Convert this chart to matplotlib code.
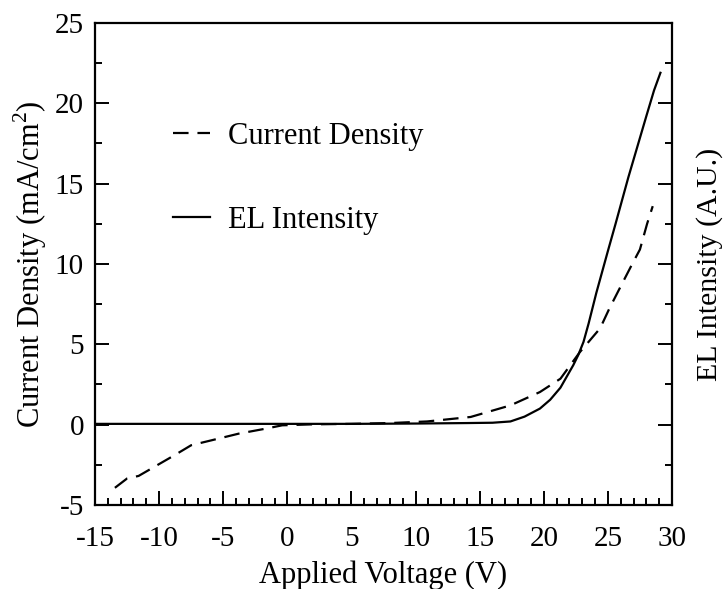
import numpy as np
import matplotlib
matplotlib.use('Agg')
import matplotlib.pyplot as plt
from matplotlib.ticker import MultipleLocator

plt.rcParams['font.family'] = ['Liberation Serif', 'DejaVu Serif']
plt.rcParams['mathtext.fontset'] = 'custom'
plt.rcParams['mathtext.rm'] = 'Liberation Serif'
plt.rcParams['axes.unicode_minus'] = False

# current density (dashed)
cd_v = [-13.45, -12.5, -11.6, -9.8, -8.8, -7.5, -5.9, -3.8, -1.7, -0.4, 2, 5, 8,
        10.9, 14.3, 17.4, 19.7, 21.3, 22.8, 24.4, 25.1, 25.9, 26.9, 27.5, 28.06, 28.5]
cd_j = [-3.93, -3.35, -3.19, -2.36, -1.9, -1.28, -0.97, -0.56, -0.25, -0.04, 0.02, 0.05, 0.1,
        0.2, 0.48, 1.2, 2.03, 2.86, 4.5, 6.0, 7.2, 8.45, 10.0, 10.9, 12.5, 13.6]

# EL intensity (solid)
el_v = [-15, -10, -5, 0, 5, 10, 14, 16, 17.4, 18.5, 19.7, 20.5, 21.3, 22.3, 22.7,
        23.1, 23.5, 24.1, 25.0, 25.6, 26.6, 28.0, 28.6, 29.1]
el_i = [0.05, 0.05, 0.05, 0.05, 0.05, 0.07, 0.1, 0.12, 0.2, 0.5, 1.0, 1.55, 2.3, 3.7, 4.35,
        5.15, 6.3, 8.2, 10.8, 12.5, 15.4, 19.2, 20.8, 21.9]

fig = plt.figure(figsize=(7.27, 5.89), dpi=100)
ax = fig.add_axes([0.1307, 0.1426, 0.7936, 0.8184])

ax.plot(cd_v, cd_j, color='black', lw=1.6, dashes=(7, 4), label='Current Density')
ax.plot(el_v, el_i, color='black', lw=1.6, label='EL Intensity')

ax.set_xlim(-15, 30)
ax.set_ylim(-5, 25)
ax.xaxis.set_major_locator(MultipleLocator(5))
ax.xaxis.set_minor_locator(MultipleLocator(1))
ax.yaxis.set_major_locator(MultipleLocator(5))
ax.yaxis.set_minor_locator(MultipleLocator(2.5))
ax.tick_params(which='both', direction='in', right=True, top=False, labelsize=21, width=1.4)
ax.tick_params(which='major', length=10)
ax.tick_params(which='minor', length=5)
ax.tick_params(axis='x', which='major', pad=15)
ax.tick_params(axis='y', which='major', pad=8)
for s in ax.spines.values():
    s.set_linewidth(1.6)

ax.set_xlabel('Applied Voltage (V)', fontsize=22, labelpad=6)
ax.set_ylabel('Current Density (mA/cm$^2$)', fontsize=22, labelpad=4)
ax.text(1.042, 0.5, 'EL Intensity (A.U.)', transform=ax.transAxes, rotation=90,
        ha='left', va='center', fontsize=21.5)

ax.legend(loc='upper left', bbox_to_anchor=(0.135, 0.795), frameon=False, fontsize=22,
          handlelength=1.2, handletextpad=0.6, labelspacing=1.8, borderpad=0,
          borderaxespad=0)

fig.savefig('out.png', dpi=100)
